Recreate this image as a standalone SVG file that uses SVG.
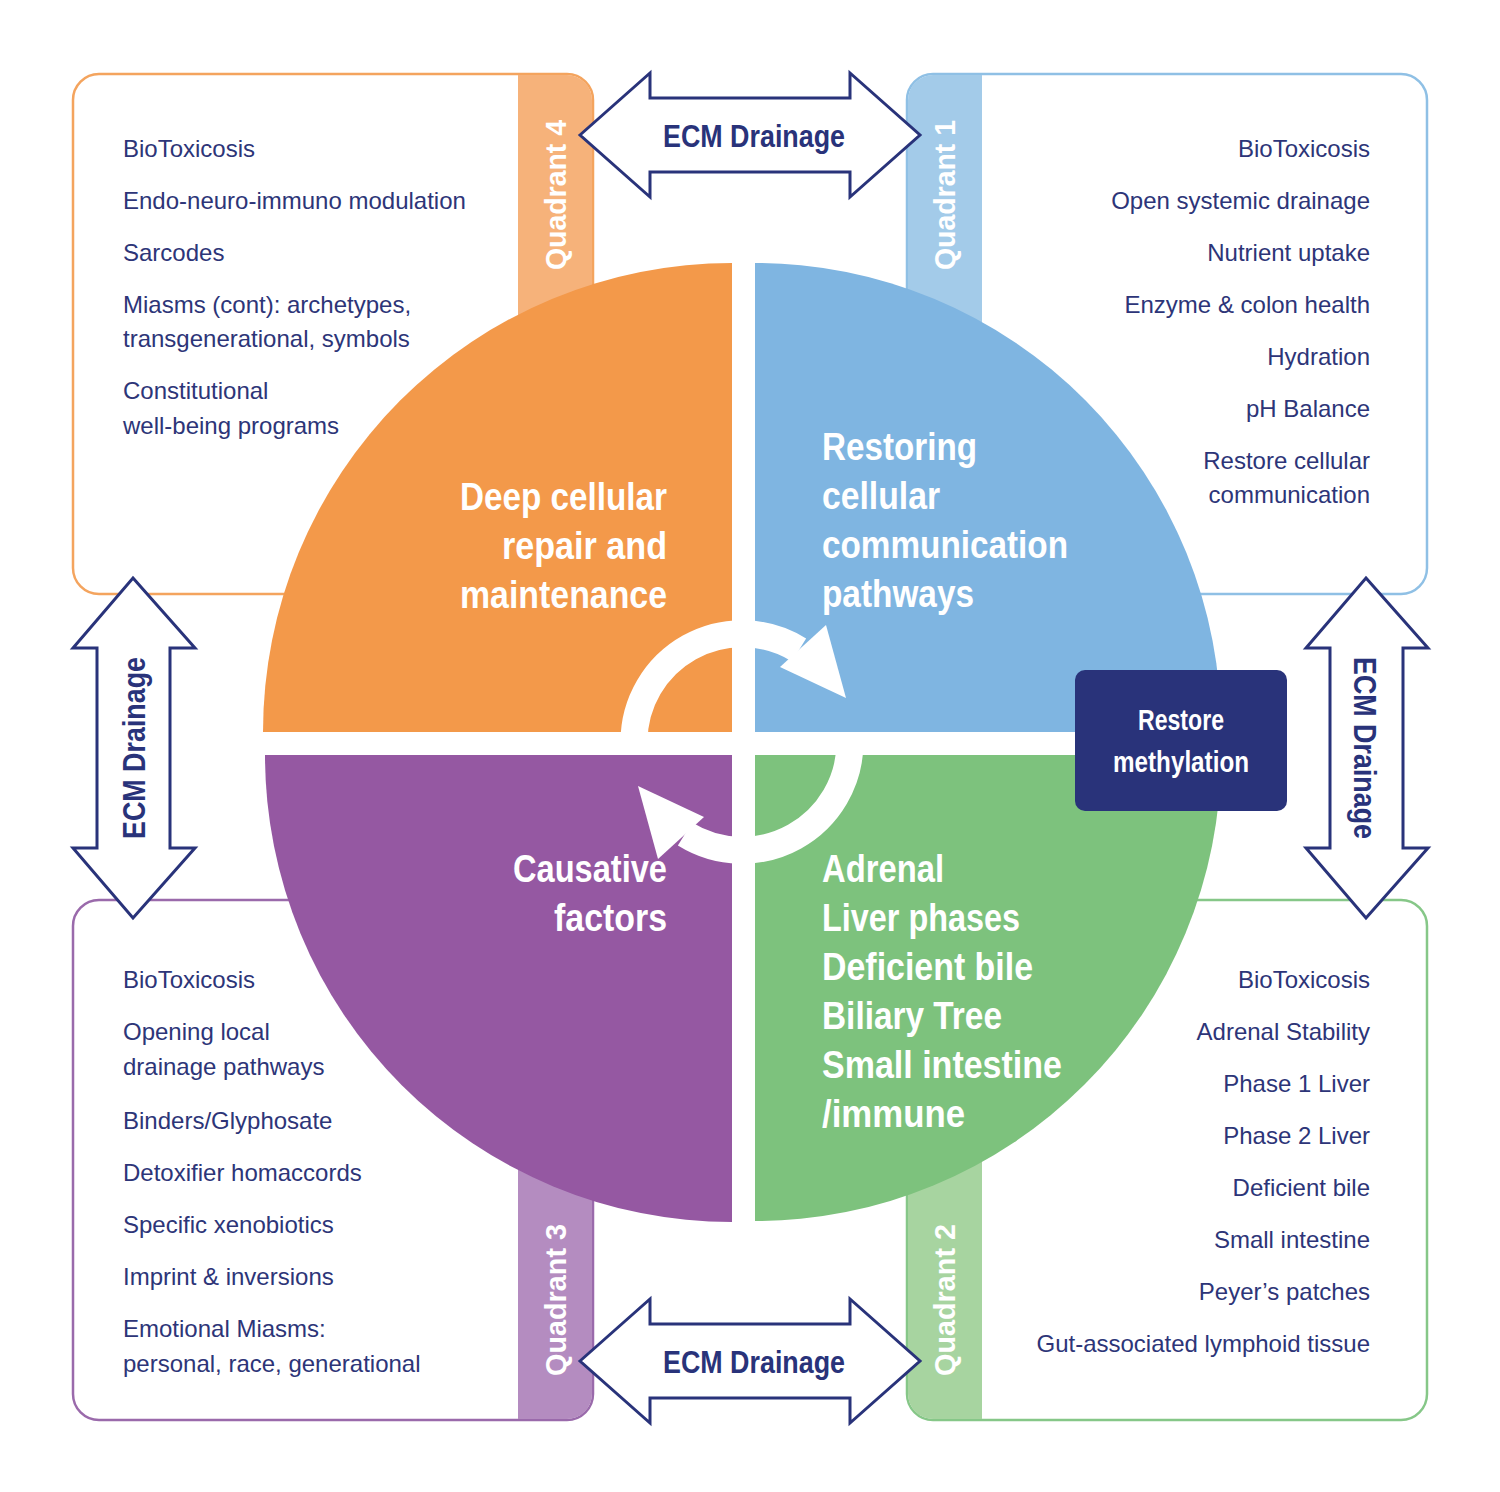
<svg xmlns="http://www.w3.org/2000/svg" width="1500" height="1492" viewBox="0 0 1500 1492">
<style>
.s{font-family:"Liberation Sans",Arial,sans-serif;font-size:24px;fill:#2d3578}
.r{text-anchor:end}
.b{font-family:"Liberation Sans",Arial,sans-serif;font-weight:bold;font-size:38px;fill:#fff}
.ecm{font-family:"Liberation Sans",Arial,sans-serif;font-weight:bold;font-size:32px;fill:#29337a;text-anchor:middle}
.q{font-family:"Liberation Sans",Arial,sans-serif;font-weight:bold;font-size:30px;fill:#fff;text-anchor:middle}
.arr{fill:#fff;stroke:#29337a;stroke-width:3;stroke-linejoin:miter}
</style>
<rect width="1500" height="1492" fill="#fff"/>
<g id="q4box">
<rect x="73" y="74" width="520" height="520" rx="26" fill="#fff" stroke="#f4a45e" stroke-width="2.5"/>
<path d="M518 75 H567 A25 25 0 0 1 592 100 V593 H518 Z" fill="#f6b27a"/>
<text class="q" transform="translate(566,195) rotate(-90)" textLength="150" lengthAdjust="spacingAndGlyphs">Quadrant 4</text>
<text class="s" x="123" y="157">BioToxicosis</text>
<text class="s" x="123" y="209">Endo-neuro-immuno modulation</text>
<text class="s" x="123" y="261">Sarcodes</text>
<text class="s" x="123" y="313">Miasms (cont): archetypes,</text>
<text class="s" x="123" y="347">transgenerational, symbols</text>
<text class="s" x="123" y="399">Constitutional</text>
<text class="s" x="123" y="434">well-being programs</text>
</g>
<g id="q1box">
<rect x="907" y="74" width="520" height="520" rx="26" fill="#fff" stroke="#8fc0e5" stroke-width="2.5"/>
<path d="M982 75 H933 A25 25 0 0 0 908 100 V593 H982 Z" fill="#a3cbe9"/>
<text class="q" transform="translate(955,195) rotate(-90)" textLength="150" lengthAdjust="spacingAndGlyphs">Quadrant 1</text>
<text class="s r" x="1370" y="157">BioToxicosis</text>
<text class="s r" x="1370" y="209">Open systemic drainage</text>
<text class="s r" x="1370" y="261">Nutrient uptake</text>
<text class="s r" x="1370" y="313">Enzyme &amp; colon health</text>
<text class="s r" x="1370" y="365">Hydration</text>
<text class="s r" x="1370" y="417">pH Balance</text>
<text class="s r" x="1370" y="469">Restore cellular</text>
<text class="s r" x="1370" y="503">communication</text>
</g>
<g id="q3box">
<rect x="73" y="900" width="520" height="520" rx="26" fill="#fff" stroke="#9a6aab" stroke-width="2.5"/>
<path d="M518 901 H592 V1394 A25 25 0 0 1 567 1419 H518 Z" fill="#b48cc0"/>
<text class="q" transform="translate(566,1300) rotate(-90)" textLength="152" lengthAdjust="spacingAndGlyphs">Quadrant 3</text>
<text class="s" x="123" y="988">BioToxicosis</text>
<text class="s" x="123" y="1040">Opening local</text>
<text class="s" x="123" y="1075">drainage pathways</text>
<text class="s" x="123" y="1129">Binders/Glyphosate</text>
<text class="s" x="123" y="1181">Detoxifier homaccords</text>
<text class="s" x="123" y="1233">Specific xenobiotics</text>
<text class="s" x="123" y="1285">Imprint &amp; inversions</text>
<text class="s" x="123" y="1337">Emotional Miasms:</text>
<text class="s" x="123" y="1372">personal, race, generational</text>
</g>
<g id="q2box">
<rect x="907" y="900" width="520" height="520" rx="26" fill="#fff" stroke="#86c788" stroke-width="2.5"/>
<path d="M982 901 H908 V1394 A25 25 0 0 0 933 1419 H982 Z" fill="#a7d4a0"/>
<text class="q" transform="translate(955,1300) rotate(-90)" textLength="152" lengthAdjust="spacingAndGlyphs">Quadrant 2</text>
<text class="s r" x="1370" y="988">BioToxicosis</text>
<text class="s r" x="1370" y="1040">Adrenal Stability</text>
<text class="s r" x="1370" y="1092">Phase 1 Liver</text>
<text class="s r" x="1370" y="1144">Phase 2 Liver</text>
<text class="s r" x="1370" y="1196">Deficient bile</text>
<text class="s r" x="1370" y="1248">Small intestine</text>
<text class="s r" x="1370" y="1300">Peyer’s patches</text>
<text class="s r" x="1370" y="1352">Gut-associated lymphoid tissue</text>
</g>
<g id="connectors">
<path class="arr" d="M580 135 L650 73 V98 H850 V73 L920 135 L850 197 V172 H650 V197 Z"/>
<text class="ecm" x="754" y="147" textLength="182" lengthAdjust="spacingAndGlyphs">ECM Drainage</text>
<path class="arr" d="M580 1361 L650 1299 V1324 H850 V1299 L920 1361 L850 1423 V1398 H650 V1423 Z"/>
<text class="ecm" x="754" y="1373" textLength="182" lengthAdjust="spacingAndGlyphs">ECM Drainage</text>
<path class="arr" d="M133 578 L195 648 H170 V848 H195 L133 918 L73 848 H97 V648 H73 Z"/>
<text class="ecm" transform="translate(145,748) rotate(-90)" textLength="182" lengthAdjust="spacingAndGlyphs">ECM Drainage</text>
<path class="arr" d="M1366 578 L1428 648 H1403 V848 H1428 L1366 918 L1306 848 H1330 V648 H1306 Z"/>
<text class="ecm" transform="translate(1354,748) rotate(90)" textLength="182" lengthAdjust="spacingAndGlyphs">ECM Drainage</text>
</g>
<g id="quadrants">
<path id="orange" d="M732 732 H263 A469 469 0 0 1 732 263 Z" fill="#f3994a"/>
<path id="blue" d="M755 732 V263 A466 466 0 0 1 1221 732 Z" fill="#7fb5e1"/>
<path id="purple" d="M732 755 V1222 A467 467 0 0 1 265 755 Z" fill="#9558a2"/>
<path id="green" d="M755 755 H1221 A466 466 0 0 1 755 1221 Z" fill="#7dc27d"/>
</g>
<g id="cycle" fill="none" stroke="#fff" stroke-width="27">
<path d="M634 742 A108 108 0 0 1 799 650"/>
<path d="M850 742 A108 108 0 0 1 685 834"/>
<path d="M826 625 L846 698 L780 667 Z" fill="#fff" stroke="none"/>
<path d="M658 859 L638 786 L704 817 Z" fill="#fff" stroke="none"/>
<rect x="732" y="600" width="23" height="290" fill="#fff" stroke="none"/>
<rect x="600" y="732" width="290" height="23" fill="#fff" stroke="none"/>
</g>
<g id="labels">
<text class="b r" x="667" y="510" textLength="207" lengthAdjust="spacingAndGlyphs" text-anchor="end">Deep cellular</text>
<text class="b r" x="667" y="559" textLength="165" lengthAdjust="spacingAndGlyphs" text-anchor="end">repair and</text>
<text class="b r" x="667" y="608" textLength="207" lengthAdjust="spacingAndGlyphs" text-anchor="end">maintenance</text>
<text class="b" x="822" y="460" textLength="155" lengthAdjust="spacingAndGlyphs">Restoring</text>
<text class="b" x="822" y="509" textLength="118" lengthAdjust="spacingAndGlyphs">cellular</text>
<text class="b" x="822" y="558" textLength="246" lengthAdjust="spacingAndGlyphs">communication</text>
<text class="b" x="822" y="607" textLength="152" lengthAdjust="spacingAndGlyphs">pathways</text>
<text class="b" x="667" y="882" textLength="154" lengthAdjust="spacingAndGlyphs" text-anchor="end">Causative</text>
<text class="b" x="667" y="931" textLength="113" lengthAdjust="spacingAndGlyphs" text-anchor="end">factors</text>
<text class="b" x="822" y="882" textLength="122" lengthAdjust="spacingAndGlyphs">Adrenal</text>
<text class="b" x="822" y="931" textLength="198" lengthAdjust="spacingAndGlyphs">Liver phases</text>
<text class="b" x="822" y="980" textLength="211" lengthAdjust="spacingAndGlyphs">Deficient bile</text>
<text class="b" x="822" y="1029" textLength="180" lengthAdjust="spacingAndGlyphs">Biliary Tree</text>
<text class="b" x="822" y="1078" textLength="240" lengthAdjust="spacingAndGlyphs">Small intestine</text>
<text class="b" x="822" y="1127" textLength="143" lengthAdjust="spacingAndGlyphs">/immune</text>
</g>
<g id="methylation">
<rect x="1075" y="670" width="212" height="141" rx="10" fill="#29337a"/>
<text class="q" x="1181" y="730" font-size="26" textLength="86" lengthAdjust="spacingAndGlyphs">Restore</text>
<text class="q" x="1181" y="772" font-size="26" textLength="136" lengthAdjust="spacingAndGlyphs">methylation</text>
</g>
</svg>
